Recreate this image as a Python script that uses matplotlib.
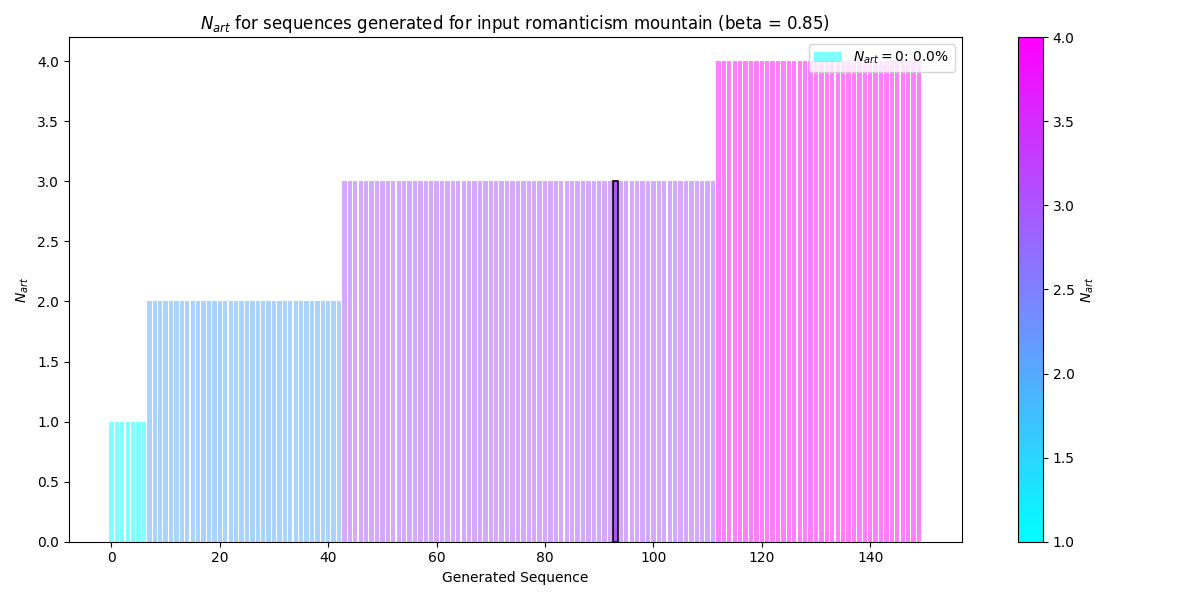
import matplotlib
matplotlib.use("Agg")
import matplotlib.pyplot as plt
import numpy as np
from matplotlib.patches import Patch

# Data: N_art per generated sequence (sorted)
n_ones = 7
n_twos = 36
n_threes = 69
n_fours = 38
values = [1] * n_ones + [2] * n_twos + [3] * n_threes + [4] * n_fours
highlight_index = 93
legend_label = r"$N_{art} = 0$: 0.0%"

cmap = plt.get_cmap("cool")
norm = matplotlib.colors.Normalize(vmin=1, vmax=4)

fig, ax = plt.subplots(figsize=(12, 6), dpi=100)
x = np.arange(len(values))
colors = [cmap(norm(v)) for v in values]
bars = ax.bar(x, values, color=colors, alpha=0.5)
hb = bars[highlight_index]
hb.set_alpha(None)
hb.set_facecolor(cmap(norm(values[highlight_index])))
hb.set_edgecolor("black")
hb.set_linewidth(1.2)

ax.set_title(r"$N_{art}$ for sequences generated for input romanticism mountain (beta = 0.85)")
ax.set_xlabel("Generated Sequence")
ax.set_ylabel(r"$N_{art}$")

sm = matplotlib.cm.ScalarMappable(cmap=cmap, norm=norm)
sm.set_array([])
cb = fig.colorbar(sm, ax=ax)
cb.set_label(r"$N_{art}$")

ax.legend(handles=[Patch(facecolor=cmap(norm(1)), alpha=0.5, label=legend_label)], loc="upper right")

fig.tight_layout()
fig.subplots_adjust(top=0.938)
fig.savefig("out.png")
